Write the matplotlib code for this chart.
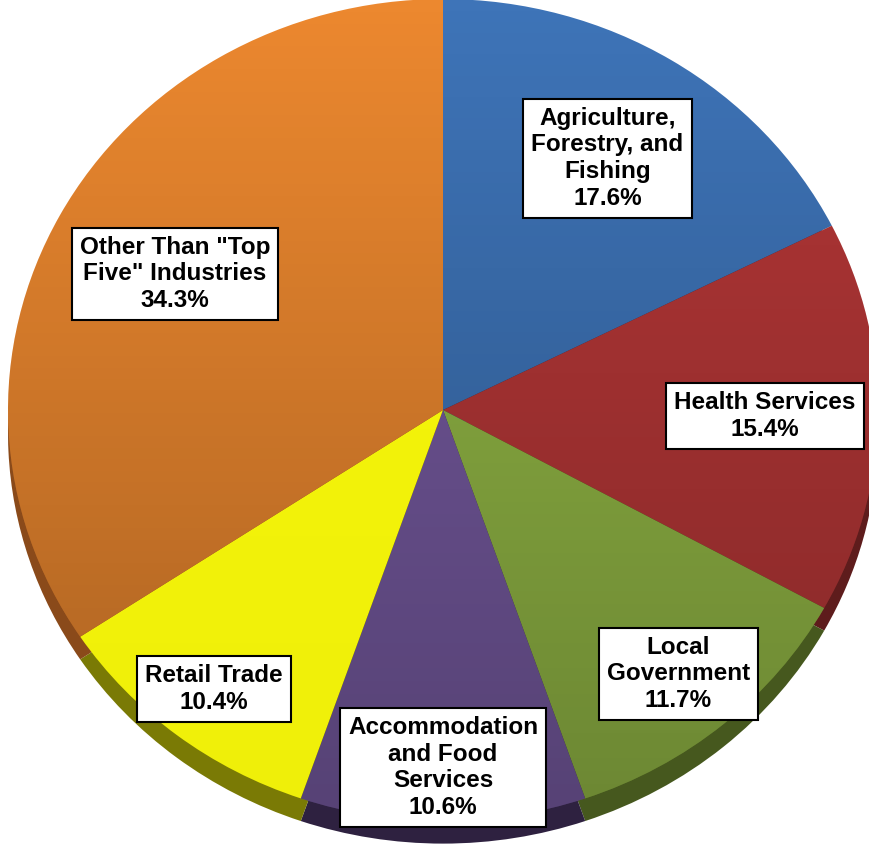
import numpy as np
import matplotlib
matplotlib.use("Agg")
import matplotlib.pyplot as plt

# ---- data ----
categories = ["Agriculture,\nForestry, and\nFishing", "Health Services", "Local\nGovernment",
              "Accommodation\nand Food\nServices", "Retail Trade", "Other Than \"Top\nFive\" Industries"]
values = [17.6, 15.4, 11.7, 10.6, 10.4, 34.3]
colors = ["#3E74B8", "#B23636", "#90B444", "#73589C", "#F6F60A", "#EC882F"]
side_colors = ["#1E3D66", "#5E1C1C", "#46581E", "#2E2140", "#7A7A05", "#8A4A1A"]
shade = [0.30, 0.25, 0.25, 0.25, 0.03, 0.28]
label_dist = [0.72, 0.74, 0.84, 0.87, 0.86, 0.70]

W, H = 869, 861
fig = plt.figure(figsize=(W / 100, H / 100), dpi=100)
ax = fig.add_axes([0, 0, 1, 1])

cx, cy = 443, 410
rx, ry = 435, 411
depth = 0.055
xlim = (-cx / rx, (W - cx) / rx)
ylim = (-(H - cy) / ry, cy / ry)

# side (3D thickness)
ax.pie(values, colors=side_colors, startangle=90, counterclock=False,
       center=(0, -depth), wedgeprops=dict(linewidth=0), frame=True)
wedges, _ = ax.pie(values, colors=colors, startangle=90, counterclock=False,
                   wedgeprops=dict(linewidth=0), frame=True)

# vertical shading gradient per wedge
yy = np.linspace(1, -1, 256)
for w, s in zip(wedges, shade):
    g = np.zeros((256, 1, 4))
    g[..., 3] = (s * (1 - yy) / 2)[:, None]
    im = ax.imshow(g, extent=[-1, 1, -1, 1], origin="upper", aspect="auto",
                   interpolation="bilinear", zorder=w.get_zorder() + 0.1)
    im.set_clip_path(w)

ax.set_aspect("auto")
ax.set_xlim(*xlim)
ax.set_ylim(*ylim)
ax.axis("off")

for w, lab, v, d in zip(wedges, categories, values, label_dist):
    th = np.deg2rad((w.theta1 + w.theta2) / 2)
    ax.text(d * np.cos(th), d * np.sin(th), f"{lab}\n{v:.1f}%",
            ha="center", va="center", fontsize=17.5, fontweight="bold",
            family=["Liberation Sans", "DejaVu Sans"], linespacing=1.2, zorder=10,
            bbox=dict(boxstyle="square,pad=0.33", fc="white", ec="black", lw=1.5))

fig.savefig("out.png", dpi=100)
